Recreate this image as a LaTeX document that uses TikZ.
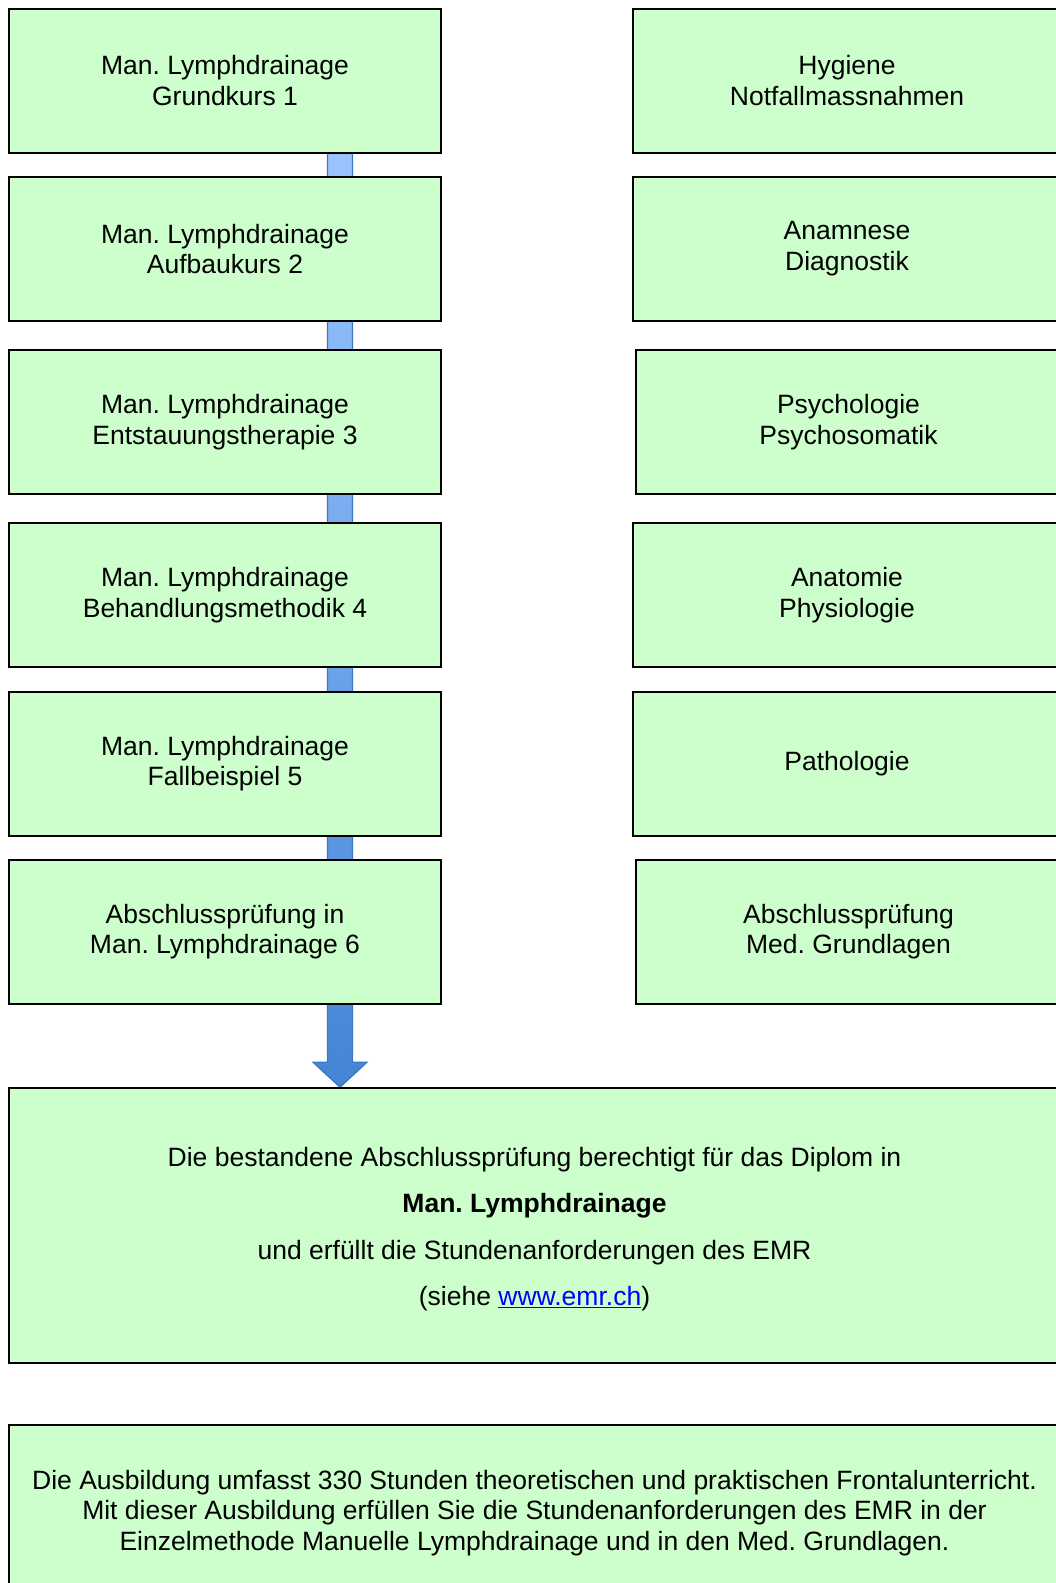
\documentclass[tikz,border=0pt]{standalone}
\usepackage{fontspec}
\setmainfont{Liberation Sans}
\usetikzlibrary{calc}
\pgfdeclarelayer{background}
\pgfsetlayers{background,main}
\frenchspacing
\definecolor{boxgreen}{HTML}{CCFFCC}
\definecolor{arrowtop}{HTML}{9CC5FF}
\definecolor{arrowbottom}{HTML}{4485D6}
\definecolor{arrowline}{HTML}{3B76C4}
\definecolor{linkblue}{HTML}{0000FF}

\begin{document}
\begin{tikzpicture}[x=1pt,y=-1pt]
  \tikzstyle{every node}=[font=\fontsize{26.5}{30.6}\selectfont]
  \tikzstyle{kurs}=[draw=black,line width=1.6pt,fill=boxgreen,align=center,inner sep=0pt,minimum width=432pt,minimum height=144pt]
  \tikzstyle{fach}=[kurs,minimum width=428pt]

  \clip (0,0) rectangle (1056,1583);

  % Lymphdrainage (links)
  \node[kurs] (g1) at (225,80.7)  {Man. Lymphdrainage\\ Grundkurs 1};
  \node[kurs] (g2) at (225,248.9) {Man. Lymphdrainage\\ Aufbaukurs 2};
  \node[kurs] (g3) at (225,422)   {Man. Lymphdrainage\\ Entstauungstherapie 3};
  \node[kurs] (g4) at (225,595)   {Man. Lymphdrainage\\ Behandlungsmethodik 4};
  \node[kurs] (g5) at (225,763.8) {Man. Lymphdrainage\\ Fallbeispiel 5};
  \node[kurs] (g6) at (225,931.8) {Abschlussprüfung in\\ Man. Lymphdrainage 6};

  % Med. Grundlagen (rechts)
  \node[fach] (m1) at (847,80.7)  {Hygiene\\ Notfallmassnahmen};
  \node[fach] (m2) at (847,248.9) {Anamnese\\ Diagnostik};
  \node[fach,minimum width=425pt] (m3) at (848.5,422) {Psychologie\\ Psychosomatik};
  \node[fach] (m4) at (847,595)   {Anatomie\\ Physiologie};
  \node[fach] (m5) at (847,763.8) {Pathologie};
  \node[fach,minimum width=425pt] (m6) at (848.5,931.8) {Abschlussprüfung\\ Med. Grundlagen};

  \node[kurs,minimum width=1051pt,minimum height=275pt] (diplom) at (534.5,1225.5) {};
  \node[font=\fontsize{26.5}{46.5}\selectfont,align=center] (diplomtext) at ($(diplom.center)+(0,3.5)$)
    {Die bestandene Abschlussprüfung berechtigt für das Diplom in\\ \textbf{Man. Lymphdrainage}\\ und erfüllt die Stundenanforderungen des EMR\\ (siehe \textcolor{linkblue}{\underline{www.emr.ch}})};
  \node[kurs,minimum width=1051pt,minimum height=170pt] (umfang) at (534.5,1510) {};
  \node[align=center] (umfangtext) at ($(umfang.center)+(0,3)$)
    {Die Ausbildung umfasst 330 Stunden theoretischen und praktischen Frontalunterricht.\\ Mit dieser Ausbildung erfüllen Sie die Stundenanforderungen des EMR in der\\ Einzelmethode Manuelle Lymphdrainage und in den Med. Grundlagen.};

  % Pfeil hinter den Kursen
  \begin{pgfonlayer}{background}
    \coordinate (pfeil) at ($(g1.south)+(115,0)$);
    \coordinate (spitze) at (pfeil |- diplom.north);
    \path[top color=arrowtop,bottom color=arrowbottom,draw=arrowline,line width=1.2pt]
      ($(pfeil)+(-12.5,0)$) -- ($(spitze)+(-12.5,-25)$) -- ($(spitze)+(-27,-25)$) -- (spitze)
      -- ($(spitze)+(27,-25)$) -- ($(spitze)+(12.5,-25)$) -- ($(pfeil)+(12.5,0)$) -- cycle;
  \end{pgfonlayer}
\end{tikzpicture}
\end{document}
